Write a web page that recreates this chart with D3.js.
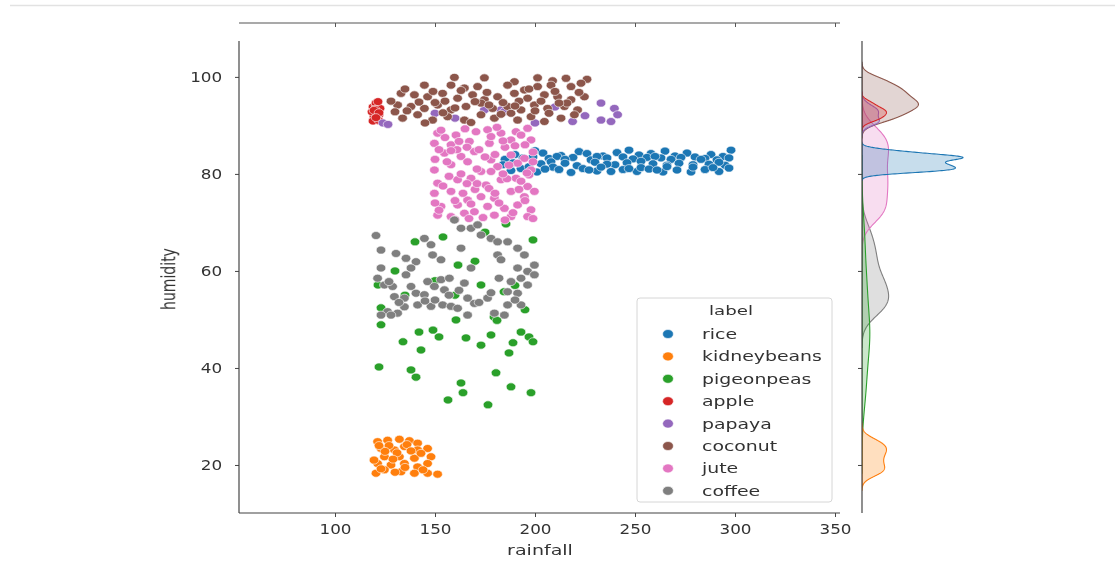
<!DOCTYPE html>
<html><head><meta charset="utf-8">
<script src="https://cdn.jsdelivr.net/npm/d3@7"></script>
<style>body{margin:0;background:#fff}svg{display:block}text{font-family:"DejaVu Sans",sans-serif;fill:#333}</style>
</head><body><svg id="c" width="1115" height="581"></svg>
<script>
// ---------- data (rainfall, humidity) ----------
const categories = ["rice","kidneybeans","pigeonpeas","apple","papaya","coconut","jute","coffee"];
const colors = ["#1f77b4","#ff7f0e","#2ca02c","#d62728","#9467bd","#8c564b","#e377c2","#7f7f7f"];
const xTicks = [100,150,200,250,300,350];
const yTicks = [20,40,60,80,100];

const rice = [[200,84.8],[222,84.6],[247,84.9],[265,84.7],[298,84.9],
[190,84.0],[204,84.3],[213,83.8],[226,84.2],[234,83.7],[241,84.4],[252,83.9],[258,84.2],[270,83.7],[276,84.3],[288,84.0],[294,83.6],
[185,83.0],[194,83.3],[199,83.5],[207,83.2],[211,83.6],[219,83.4],[228,82.9],[236,83.3],[244,83.5],[249,83.1],[256,83.4],[263,83.3],[268,83.0],[273,83.4],[280,83.5],[285,83.2],[291,82.9],[297,83.3],[215,83.0],[231,83.6],[260,83.6],[283,83.0],
[184,81.9],[189,82.3],[203,82.1],[215,82.2],[221,81.7],[230,82.4],[240,81.9],[246,82.3],[259,82.1],[266,81.8],[272,82.2],[287,82.0],[295,81.8],[208,82.5],[253,82.6],[279,81.9],[236,82.0],[292,82.4],
[188,80.7],[193,81.1],[197,81.5],[201,80.4],[209,81.4],[212,80.9],[218,80.3],[224,81.1],[231,80.6],[233,81.4],[238,80.5],[244,80.9],[251,80.5],[253,81.3],[257,81.0],[264,80.4],[266,81.5],[271,80.8],[278,80.4],[279,81.4],[285,80.9],[292,80.5],[297,81.2],[205,81.0],[227,80.8],[247,81.1],[261,80.8],[289,81.3]];
const kidneybeans = [[121.3,24.8],[126.3,25.1],[132.2,25.3],[137.2,25.0],[141.3,24.5],[123,23.4],[129.7,23.1],[134.7,23.8],[141.3,23.1],[146.3,23.4],[124.7,21.7],[132.2,21.7],[139.7,21.4],[148,21.7],[121.3,20.3],[128,20.0],[134.7,20.3],[141.3,19.6],[146.3,20.3],[120.5,18.3],[124.7,19.0],[133,18.6],[139.7,18.3],[146.3,18.3],[151.3,18.1],[123,19.2],[131,22.5],[136,24.2],[127,24.0],[143,22.4],[119.5,21.0],[130,18.5],
[125,22.8],[138,22.9],[144,19.0],[129,21.2],[135,19.5],[122,24.0]];
const pigeonpeas = [[154,67.0],[199,66.4],[185.5,69.7],[161.5,61.2],[173,57.1],[184.5,55.7],[121.5,57.1],[160.5,49.9],[123,48.9],[142,47.4],[149,47.8],[152,46.4],[134,45.4],[165.5,46.2],[173,44.7],[178,46.8],[193,47.4],[197,46.4],[189,45.2],[187,43.1],[143,43.7],[122,40.2],[138,39.6],[140.5,38.1],[180.5,39.0],[163,36.9],[164,34.9],[156.5,33.4],[176.5,32.4],[188,36.1],[198,34.9],[179.5,50.5],[181,49.8],[199,45.4],[123,52.4],[130,60],[150,58],[170,62],[190,57],[140,66],[160,55],[195,52],[135,55],[175,68]];
const apple = [[119,93.8],[120,92.5],[120.5,94.2],[119.5,91.8],[121.5,93.0],[120.5,94.6],[122,92.2],[118.5,92.8],[121,91.4],[122.5,93.5],[119,90.9],[121.5,94.9],[120,93.3],[122,91.0],[121,92.0],[119.5,93.1],[122,92.6],[120.5,91.6]];
const papaya = [[124,90.5],[126.5,90.2],[233,94.6],[239.7,93.5],[241.3,92.2],[233,91.1],[238,90.8],[218.8,90.8],[174.7,93.2],[183,93.2],[184.5,92.8],[160,91.5],[200,90.5],[225,92],[210,93.8],[150,92.5]];
const coconut = [[159.7,99.9],[174.7,99.8],[189.7,99.0],[201.3,99.8],[208.8,99.2],[215.5,99.7],[226,99.5],
[144.7,98.3],[158,98.3],[164.7,97.7],[171.3,98.0],[186.3,98.3],[194.7,97.3],[201.3,98.0],[208,98.3],[218,98.0],[223,98.7],
[133,96.6],[139.7,96.3],[146.3,95.9],[153.8,96.6],[161.3,95.6],[168.8,96.3],[174.7,95.3],[181.3,95.9],[189.7,96.6],[196.3,95.6],[204.7,96.3],[211.3,95.9],[218,95.3],[224.7,95.9],
[131.3,94.2],[138,93.9],[144.7,93.5],[151.3,94.2],[158,93.2],[165.5,93.9],[173,94.6],[178.8,93.5],[186.3,93.9],[193,93.2],[199.7,94.2],[206.3,93.5],[214.7,93.9],[221.3,93.2],
[133.8,91.5],[141.3,92.2],[148.8,91.1],[156.3,91.8],[164.7,91.1],[173,92.2],[179.7,91.5],[191.3,91.1],[198,91.8],[204.7,90.8],[213,91.5],[219.7,92.2],
[128,95],[135,97.5],[142,94.8],[149,97],[155,95],[163,97.2],[170,94.9],[176,96.8],[184,94.7],[192,95],[197,97.5],[203,95],[210,97],[216,94.6],[222,96.8],[130,92.8],[188,92.5],[145,90.5],[168,90.6],
[136,93],[150,94.7],[160,93.6],[177,94.2],[190,94],[200,93],[212,94.6],[154,92.6],[183,92.3],[207,92.5]];
const jute = [[151.3,88.4],[160.5,88.0],[170.5,88.7],[176.3,89.1],[183,88.4],[190.5,88.7],[196.3,89.4],[149.7,86.3],[158,86.0],[167.2,86.7],[177.2,86.3],[188,87.0],[198,87.0],[154.7,84.3],[163,83.6],[169.7,84.6],[178,82.9],[188,83.9],[194.7,83.2],[149.7,80.8],[158,81.9],[166.3,82.5],[173,80.5],[181.3,81.5],[191.3,82.2],[198,80.8],[151.3,78.1],[161.3,78.8],[168,79.1],[175.5,77.7],[183,78.8],[190.5,79.1],[196.3,77.4],[149.7,76.0],[158,76.4],[166.3,74.6],[173,75.3],[179.7,75.0],[188,76.4],[194.7,75.3],[199.7,76.4],[153,73.3],[161.3,73.6],[169.7,72.2],[176.3,73.3],[184.7,72.9],[191.3,73.6],[198,72.6],[151.3,71.5],[158,71.2],[164.7,71.9],[179.7,71.5],[188,71.2],[196.3,71.2],
[155,87.5],[172,85],[185,85.5],[195,86],[163,80],[178,80.5],[186,79],[156,82.5],[193,78.5],[170,76.8],[160,74.5],[182,74],
[152,85],[166,85.5],[180,84],[190,85.8],[199,84.5],[157,79.5],[171,78],[184,80],[197,79.8],[150,74],[164,76],[177,77],[192,76.8],[167,70.8],[185,70.5],
[153,89],[165,89.3],[181,89.6],[193,88],[150,83],[161,85],[175,83.5],[187,81.8],[199,82.5],[154,77.5],[166,78],[180,76],[195,74.5],[152,72.5],[160,70.6],[174,71],[189,72],[199,70.8],[158,84.8],[171,81],[184,86.8],[196,80.2],[168,73.8],[178,87.7],[162,86.7]];
const coffee = [[120.5,67.3],[123,64.3],[130.5,63.6],[135.5,62.6],[140.5,61.9],[144.7,66.7],[148,65.4],[148.8,63.3],[153,62.3],[159.7,70.5],[163,68.8],[168,68.8],[171.3,69.5],[173,67.4],[178,66.7],[181.3,66.0],[186.3,66.0],[191.3,64.7],[194.7,63.3],[199.7,61.2],[196.3,59.9],[191.3,60.6],[193,58.5],[188,57.8],[123,60.6],[121.3,58.5],[124.7,57.1],[128.8,56.8],[129.7,54.7],[134.7,54.4],[138,56.8],[140.5,55.4],[144.7,55.1],[146.3,57.8],[149.7,56.8],[153,58.2],[154.7,56.1],[157.2,58.5],[163,64.7],[164.7,57.5],[166.3,54.4],[169.7,53.3],[168,60.6],[153.8,53.0],[158,52.7],[161.3,52.3],[126.3,51.6],[131.3,51.3],[134.7,52.6],[141.3,53.0],[181.3,63.3],[183,62.3],[186.3,55.7],[191.3,55.4],[193,53.0],[196.3,57.1],[199.7,59.2],[186.3,53.0],[184.7,50.9],[179.7,51.3],[176.3,54.4],[148,52.7],[138,60.6],[135.5,59.2],[128,50.9],[166.3,50.9],[123,50.9],
[150,54],[157,55],[172,53.5],[178,55.5],[132,53.5],[145,53.8],[162,56],[190,54],[127,57.8],[182,58.5]];
const seriesData = [rice,kidneybeans,pigeonpeas,apple,papaya,coconut,jute,coffee];

// ---------- layout ----------
const svg = d3.select("#c");
const SXT = 1.2, SXL = 1.36, SXG = 1.4; // horizontal text stretch of the original image
const X0=239, X1=840, Y0=41, Y1=513, MX=862, MW=101;
const x = d3.scaleLinear().domain([52,352.5]).range([X0,X1]);
const y = d3.scaleLinear().domain([10.1,107.4]).range([Y1,Y0]);

// frame of the screenshot
const defs = svg.append("defs");
const f = defs.append("filter").attr("id","sh").attr("x","-5%").attr("y","-5%").attr("width","110%").attr("height","110%");
f.append("feGaussianBlur").attr("stdDeviation",1.2);
const blur = defs.append("filter").attr("id","bl");
blur.append("feGaussianBlur").attr("stdDeviation",0.45);
svg.append("line").attr("x1",10).attr("x2",1115).attr("y1",5.5).attr("y2",5.5).attr("stroke","#e2e2e2").attr("stroke-width",1.5);
svg.append("line").attr("x1",11).attr("x2",11).attr("y1",10).attr("y2",577).attr("stroke","#9a9a9a").attr("stroke-width",2.5).attr("filter","url(#sh)");
svg.append("line").attr("x1",10).attr("x2",1115).attr("y1",577).attr("y2",577).attr("stroke","#8a8a8a").attr("stroke-width",3).attr("filter","url(#sh)");

const g = svg.append("g").attr("filter","url(#bl)");

// scatter
categories.forEach((c,i)=>{
  g.append("g").selectAll("ellipse").data(seriesData[i]).join("ellipse")
   .attr("cx",d=>x(d[0])).attr("cy",d=>y(d[1])).attr("rx",4.8).attr("ry",4)
   .attr("fill",colors[i]).attr("stroke","#fff").attr("stroke-width",0.6);
});

// axes
const ax = g.append("g").attr("transform",`translate(0,${Y1})`)
  .call(d3.axisBottom(x).tickValues(xTicks).tickSize(4).tickPadding(7).tickSizeOuter(0));
const ay = g.append("g").attr("transform",`translate(${X0},0)`)
  .call(d3.axisLeft(y).tickValues(yTicks).tickSize(4).tickPadding(10).tickSizeOuter(0));
[ax,ay].forEach(a=>{
  a.select(".domain").attr("stroke","#444").attr("stroke-width",1.2);
  a.selectAll(".tick line").attr("stroke","#444");
  a.selectAll("text").attr("font-size",14).attr("fill","#333").style("font-family","DejaVu Sans");
});
ax.selectAll(".domain").attr("d",`M${X0},0H${X1}`);
ay.selectAll(".domain").attr("d",`M0,${Y0}V${Y1}`);
ax.selectAll(".tick text").attr("transform",`scale(${SXT},1)`);
ay.selectAll(".tick text").attr("transform",`scale(${SXT},1)`);

g.append("text").attr("transform",`translate(540,555) scale(${SXL},1)`).attr("text-anchor","middle").attr("font-size",14).text("rainfall");
g.append("text").attr("transform",`translate(175,279) scale(${SXL},1) rotate(-90)`).attr("text-anchor","middle").attr("font-size",14).text("humidity");

// top marginal axis bottom spine (the top marginal itself is cut off)
const axTop = g.append("g").attr("transform","translate(0,23)")
  .call(d3.axisBottom(x).tickValues(xTicks).tickSize(4).tickFormat("").tickSizeOuter(0));
axTop.select(".domain").attr("d",`M${X0},0H${X1}`).attr("stroke","#555").attr("stroke-width",1.2);
axTop.selectAll(".tick line").attr("stroke","#555");

// right marginal KDE (common normalisation, seaborn-like)
const N = d3.sum(seriesData,s=>s.length);
function kde(vals){
  const n=vals.length, sd=d3.deviation(vals), bw=sd*Math.pow(n,-0.2);
  const lo=d3.min(vals)-3*bw, hi=d3.max(vals)+3*bw, pts=[];
  for(let k=0;k<=200;k++){
    const t=lo+(hi-lo)*k/200;
    let s=0; for(const v of vals){const z=(t-v)/bw; s+=Math.exp(-0.5*z*z);}
    pts.push([t, s/(n*bw*Math.sqrt(2*Math.PI))*(n/N)]);
  }
  return pts;
}
const dens = seriesData.map(s=>kde(s.map(d=>d[1])));
const dmax = d3.max(dens,p=>d3.max(p,d=>d[1]));
const xd = d3.scaleLinear().domain([0,dmax]).range([MX,MX+MW]);
defs.append("clipPath").attr("id","mc").append("rect").attr("x",MX).attr("y",Y0).attr("width",200).attr("height",Y1-Y0);
const mg = g.append("g").attr("clip-path","url(#mc)");
const area = d3.area().y(d=>y(d[0])).x0(xd(0)).x1(d=>xd(d[1]));
for(let i=categories.length-1;i>=0;i--){
  mg.append("path").attr("d",area(dens[i])).attr("fill",colors[i]).attr("fill-opacity",0.25)
    .attr("stroke",colors[i]).attr("stroke-width",1.1);
}
const am = g.append("g").attr("transform",`translate(${MX},0)`)
  .call(d3.axisLeft(y).tickValues(yTicks).tickSize(4).tickFormat("").tickSizeOuter(0));
am.select(".domain").attr("d",`M0,${Y0}V${Y1}`).attr("stroke","#444").attr("stroke-width",1.2);
am.selectAll(".tick line").attr("stroke","#444");

// legend
const lg = g.append("g");
lg.append("rect").attr("x",637).attr("y",298).attr("width",195).attr("height",204).attr("rx",3)
  .attr("fill","#fff").attr("fill-opacity",0.8).attr("stroke","#d6d6d6");
lg.append("text").attr("transform",`translate(731,315) scale(${SXG},1)`).attr("text-anchor","middle").attr("font-size",13).text("label");
categories.forEach((c,i)=>{
  const yy = 334 + i*22.4;
  lg.append("ellipse").attr("cx",668).attr("cy",yy).attr("rx",5.4).attr("ry",4.5).attr("fill",colors[i]).attr("stroke","#fff").attr("stroke-width",0.6);
  lg.append("text").attr("transform",`translate(702,${yy+5}) scale(${SXG},1)`).attr("font-size",13.5).text(c);
});
</script></body></html>
